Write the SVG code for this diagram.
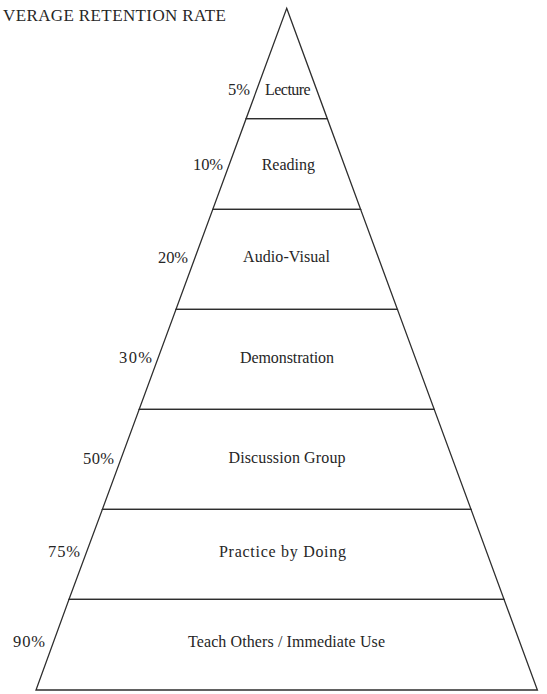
<svg xmlns="http://www.w3.org/2000/svg" width="547" height="694" viewBox="0 0 547 694">
<style>
.tier{fill:none;stroke:#2e2e2e;stroke-width:1.3;stroke-linejoin:miter}
text{font-family:"Liberation Serif","Times New Roman",serif;font-size:16px;fill:#262626}
.pct{font-size:16.5px}
.title{font-size:17px}
</style>
<rect width="547" height="694" fill="#ffffff"/>
<text class="title" x="3" y="21" textLength="223">VERAGE RETENTION RATE</text>
<g id="connectors"></g>
<g id="tier-lecture">
<polygon class="tier" points="286.7,8.3 327.3,118.7 246.1,118.7"/>
<text class="pct" x="228" y="95" textLength="22">5%</text>
<text x="265" y="95" textLength="45.7">Lecture</text>
</g>
<g id="tier-reading">
<polygon class="tier" points="246.1,118.7 327.3,118.7 360.6,209.3 212.8,209.3"/>
<text class="pct" x="193" y="170" textLength="30">10%</text>
<text x="261.7" y="170" textLength="53.3">Reading</text>
</g>
<g id="tier-audio-visual">
<polygon class="tier" points="212.8,209.3 360.6,209.3 397.4,309.3 176,309.3"/>
<text class="pct" x="158" y="263" textLength="30">20%</text>
<text x="243" y="262" textLength="87">Audio-Visual</text>
</g>
<g id="tier-demonstration">
<polygon class="tier" points="176,309.3 397.4,309.3 434.2,409.3 139.2,409.3"/>
<text class="pct" x="119" y="363" textLength="33">30%</text>
<text x="240" y="363" textLength="94">Demonstration</text>
</g>
<g id="tier-discussion">
<polygon class="tier" points="139.2,409.3 434.2,409.3 471,509.3 102.4,509.3"/>
<text class="pct" x="83" y="464" textLength="31">50%</text>
<text x="228.5" y="463" textLength="117">Discussion Group</text>
</g>
<g id="tier-practice">
<polygon class="tier" points="102.4,509.3 471,509.3 504,599.3 69,599.3"/>
<text class="pct" x="48" y="557" textLength="32">75%</text>
<text x="219" y="557" textLength="127">Practice by Doing</text>
</g>
<g id="tier-teach">
<polygon class="tier" points="69,599.3 504,599.3 537.4,690 36,690"/>
<text class="pct" x="13" y="647" textLength="32">90%</text>
<text x="188" y="647" textLength="197">Teach Others / Immediate Use</text>
</g>
</svg>
